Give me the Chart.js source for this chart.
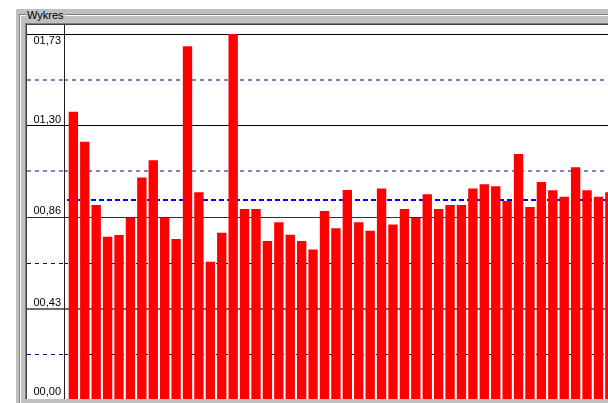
<!DOCTYPE html>
<html>
<head>
<meta charset="utf-8">
<title>Wykres</title>
<script src="https://cdn.jsdelivr.net/npm/chart.js@4.4.1/dist/chart.umd.min.js"></script>
<style>
    html, body { margin: 0; padding: 0; background: #fff; overflow: hidden; width: 608px; height: 403px; }
    #panel { position: absolute; left: 16px; top: 9px; width: 700px; height: 420px; background: #c0c0c0; }
    #group { position: absolute; left: 3px; top: 5px; width: 700px; height: 420px;
             border-top: 1px solid #808080; border-left: 1px solid #808080; box-shadow: inset 1px 1px 0 #fff; }
    #title { position: absolute; left: 10px; top: 0; padding: 0 1px; background: #c0c0c0;
             font: 11px "Liberation Sans", Arial, sans-serif; line-height: 13px; color: #000; }
    #frame { position: absolute; left: 9px; top: 14px; width: 601px; border-top: 1px solid #808080; border-left: 1px solid #808080; }
    #inner { width: 600px; height: 374px; overflow: hidden; border-top: 1px solid #404040; border-left: 1px solid #404040; background: #fff; }
    canvas { display: block; }
</style>
</head>
<body>
<div id="panel">
    <div id="group"></div>
    <span id="title">Wykres</span>
    <div id="frame"><div id="inner"><canvas id="wykres" width="600" height="376"></canvas></div></div>
</div>
<script>
// numer próbki i wartości słupków
const sampleIds = [1, 2, 3, 4, 5, 6, 7, 8, 9, 10, 11, 12, 13, 14, 15, 16, 17, 18, 19, 20, 21, 22, 23, 24,
    25, 26, 27, 28, 29, 30, 31, 32, 33, 34, 35, 36, 37, 38, 39, 40, 41, 42, 43, 44, 45, 46, 47, 48];
const values = [1.363, 1.221, 0.923, 0.773, 0.781, 0.861, 1.052, 1.134, 0.861, 0.762,
    1.672, 0.983, 0.655, 0.792, 1.730, 0.904, 0.904, 0.753, 0.841, 0.782,
    0.753, 0.713, 0.894, 0.813, 0.993, 0.841, 0.801, 1.001, 0.831, 0.904,
    0.861, 0.973, 0.904, 0.923, 0.923, 1.001, 1.020, 1.011, 0.941, 1.163,
    0.913, 1.031, 0.992, 0.962, 1.101, 0.992, 0.962, 0.983];
const averageValue = 0.947;

const majorTicks = [0, 0.4325, 0.865, 1.2975, 1.73];
const majorLabels = ['00,00', '00,43', '00,86', '01,30', '01,73'];
const minorTicks = [0.21625, 0.64875, 1.08125, 1.51375];

const yTop = 1.7725;
const labelWidth = 37;

// style of grid lines
const majorColors = ['#606060', '#707070', '#303030', '#000000', '#000000'];
const majorWidths = [1, 2, 1, 1, 1];
const minorColors = ['#000080', '#000080', '#8080c0', '#8080c0'];
const minorWidths = [1, 1, 2, 2];

// average line drawn behind the bars
const averageLine = {
    id: 'averageLine',
    beforeDatasetsDraw(chart) {
        const { ctx, chartArea, scales } = chart;
        const y = Math.round(scales.y.getPixelForValue(averageValue));
        ctx.save();
        ctx.strokeStyle = '#0000ff';
        ctx.lineWidth = 2;
        ctx.setLineDash([5, 3]);
        ctx.beginPath();
        ctx.moveTo(chartArea.left + 3, y);
        ctx.lineTo(chartArea.right, y);
        ctx.stroke();
        ctx.restore();
    }
};

// axis labels sit above their line, the top one below it
const axisLabels = {
    id: 'axisLabels',
    afterDraw(chart) {
        const { ctx, scales } = chart;
        const yAxis = scales.y;
        ctx.save();
        ctx.font = '11px "Liberation Sans", Arial, sans-serif';
        ctx.fillStyle = '#000';
        ctx.textAlign = 'right';
        majorTicks.forEach((v, i) => {
            const py = yAxis.getPixelForValue(v);
            const isTop = i === majorTicks.length - 1;
            ctx.textBaseline = isTop ? 'top' : 'alphabetic';
            const ty = isTop ? py + 1 : Math.min(py - 3, chart.height - 6);
            ctx.fillText(majorLabels[i], yAxis.right - 3, ty);
        });
        ctx.restore();
    }
};

document.addEventListener("DOMContentLoaded", function() {
    const ctx = document.getElementById('wykres').getContext('2d');
    new Chart(ctx, {
        type: 'bar',
        data: {
            datasets: [{
                data: sampleIds.map((id, i) => ({ x: id, y: values[i] })),
                backgroundColor: '#ff0000',
                borderWidth: 0,
                categoryPercentage: 1,
                barPercentage: 0.82
            }]
        },
        options: {
            responsive: false,
            animation: false,
            events: [],
            layout: { padding: { bottom: 0.6 } },
            plugins: {
                legend: { display: false },
                tooltip: { enabled: false }
            },
            scales: {
                x: {
                    type: 'linear',
                    min: 0.18,
                    max: 49.5,
                    offset: false,
                    grid: { offset: false },
                    display: false
                },
                y: {
                    position: 'left',
                    weight: 1,
                    min: 0,
                    max: yTop,
                    afterBuildTicks: (axis) => { axis.ticks = majorTicks.map(v => ({ value: v })); },
                    afterFit: (axis) => { axis.width = labelWidth; },
                    ticks: { display: false },
                    grid: {
                        color: (c) => majorColors[c.index],
                        lineWidth: (c) => majorWidths[c.index],
                        tickColor: (c) => majorColors[c.index],
                        tickWidth: (c) => majorWidths[c.index],
                        tickLength: labelWidth
                    },
                    border: { display: true, color: '#202020', width: 1 }
                },
                y2: {
                    position: 'left',
                    weight: 0,
                    min: 0,
                    max: yTop,
                    afterBuildTicks: (axis) => { axis.ticks = minorTicks.map(v => ({ value: v })); },
                    afterFit: (axis) => { axis.width = 0; },
                    ticks: { display: false },
                    grid: {
                        color: (c) => minorColors[c.index],
                        lineWidth: (c) => minorWidths[c.index],
                        tickColor: (c) => minorColors[c.index],
                        tickWidth: (c) => minorWidths[c.index],
                        tickLength: labelWidth,
                        tickBorderDash: [4, 4]
                    },
                    border: { display: false, dash: [4, 4] }
                }
            }
        },
        plugins: [averageLine, axisLabels]
    });
});
</script>
</body>
</html>
